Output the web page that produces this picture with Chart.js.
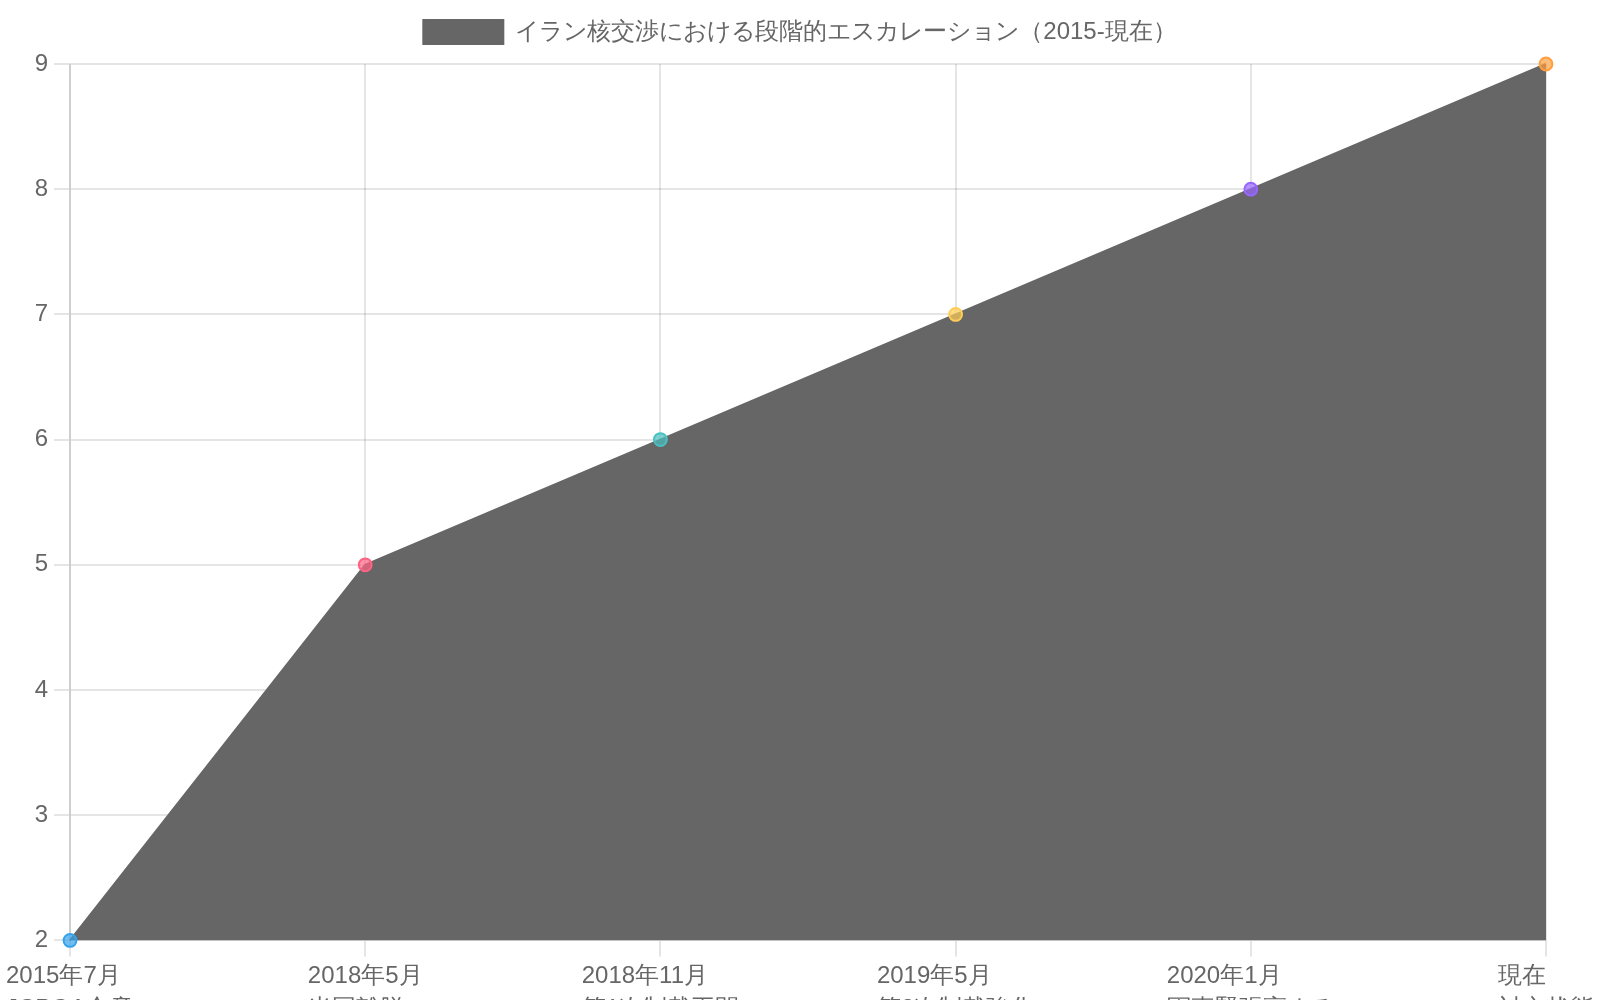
<!DOCTYPE html>
<html>
<head>
<meta charset="utf-8">
<script src="https://cdn.jsdelivr.net/npm/chart.js@4/dist/chart.umd.min.js"></script>
<style>
  html, body { margin: 0; padding: 0; background: #fff; overflow: hidden; }
  /* chart is laid out at 800px and shown at 2x */
  .wrap { position: absolute; left: 0; top: 0; width: 800px; height: 513px; transform: scale(2); transform-origin: 0 0; }
</style>
</head>
<body>
<div class="wrap"><canvas id="chart"></canvas></div>
<script>
const title = "イラン核交渉における段階的エスカレーション（2015-現在）";
const labels = [
  ["2015年7月", "JCPOA合意"],
  ["2018年5月", "米国離脱"],
  ["2018年11月", "第1次制裁再開"],
  ["2019年5月", "第2次制裁強化"],
  ["2020年1月", "軍事緊張高まる"],
  ["現在", "対立状態"],
];
const levels = [2, 5, 6, 7, 8, 9];
const pointColors = [
  "54, 162, 235",
  "255, 99, 132",
  "75, 192, 192",
  "255, 205, 86",
  "153, 102, 255",
  "255, 159, 64",
];

// draw the x labels as left-aligned blocks centred on each tick
const blockLabels = {
  id: "blockLabels",
  afterDraw(chart) {
    const x = chart.scales.x;
    const ctx = chart.ctx;
    ctx.save();
    ctx.font = "12px " + Chart.defaults.font.family;
    ctx.fillStyle = "#666";
    ctx.textAlign = "left";
    ctx.textBaseline = "middle";
    const top = x.top + 8 + 3;
    labels.forEach((lines, i) => {
      const w = Math.max(...lines.map(l => ctx.measureText(l).width));
      const px = x.getPixelForTick(i);
      lines.forEach((l, j) => {
        ctx.fillText(l, px - w / 2, top + 7.2 + j * 16.2);
      });
    });
    ctx.restore();
  }
};

new Chart(document.getElementById("chart"), {
  type: "line",
  data: {
    labels: labels,
    datasets: [{
      label: title,
      data: levels,
      fill: true,
      tension: 0,
      backgroundColor: "#666",
      borderColor: "#666",
      borderWidth: 1,
      pointRadius: 3.2,
      pointBackgroundColor: pointColors.map(c => "rgba(" + c + ", 0.7)"),
      pointBorderColor: pointColors.map(c => "rgb(" + c + ")"),
    }]
  },
  options: {
    responsive: true,
    maintainAspectRatio: false,
    devicePixelRatio: 2,
    animation: false,
    scales: {
      x: {
        ticks: { color: "transparent", maxRotation: 0 }
      },
      y: {
        ticks: { stepSize: 1 }
      }
    }
  },
  plugins: [blockLabels]
});
</script>
</body>
</html>
